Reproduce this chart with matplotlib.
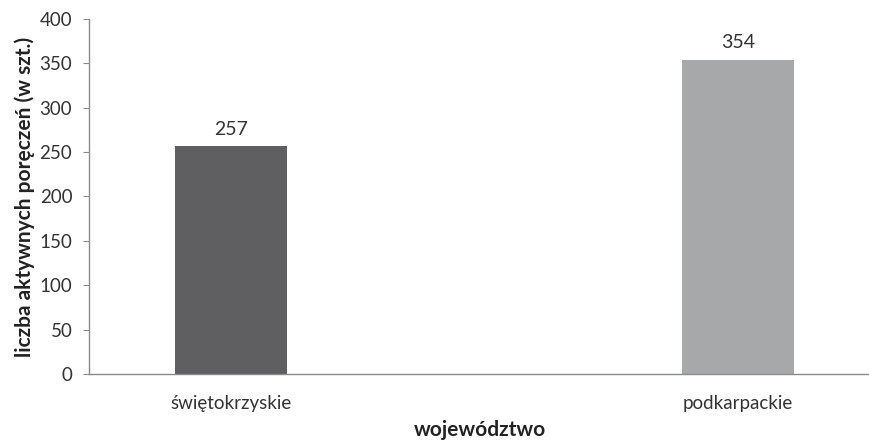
import matplotlib.pyplot as plt

plt.rcParams['font.family'] = ['Lato', 'DejaVu Sans']

regions = ["świętokrzyskie", "podkarpackie"]
counts = [257, 354]
bar_colors = ["#5f5f61", "#a7a8aa"]
y_ticks = [0, 50, 100, 150, 200, 250, 300, 350, 400]

fig = plt.figure(figsize=(8.7, 4.45), dpi=100)
ax = fig.add_axes([0.1023, 0.1596, 0.8977, 0.7978])

x = range(len(regions))
bars = ax.bar(x, counts, width=0.22, color=bar_colors)
for rect, val in zip(bars, counts):
    ax.annotate(str(val), (rect.get_x() + rect.get_width() / 2, val),
                xytext=(0, 6), textcoords="offset points",
                ha="center", va="bottom", fontsize=14, color="#333333")

ax.set_xlim(-0.28, 1.26)
ax.set_ylim(0, 400)
ax.set_yticks(y_ticks)
ax.set_xticks(list(x))
ax.set_xticklabels(regions)

for s in ["top", "right"]:
    ax.spines[s].set_visible(False)
for s in ["left", "bottom"]:
    ax.spines[s].set_color("#8a8a8a")
    ax.spines[s].set_linewidth(1)

ax.tick_params(axis="y", length=4, color="#8a8a8a", labelsize=13.5, labelcolor="#333333", pad=8)
ax.tick_params(axis="x", length=0, labelsize=13.5, labelcolor="#333333", pad=15)

ax.set_ylabel("liczba aktywnych poręczeń (w szt.)", fontsize=15, fontweight="bold",
              color="#222222", labelpad=3)
ax.set_xlabel("województwo", fontsize=15, fontweight="bold", color="#222222", labelpad=6)

fig.savefig("out.png", dpi=100)
